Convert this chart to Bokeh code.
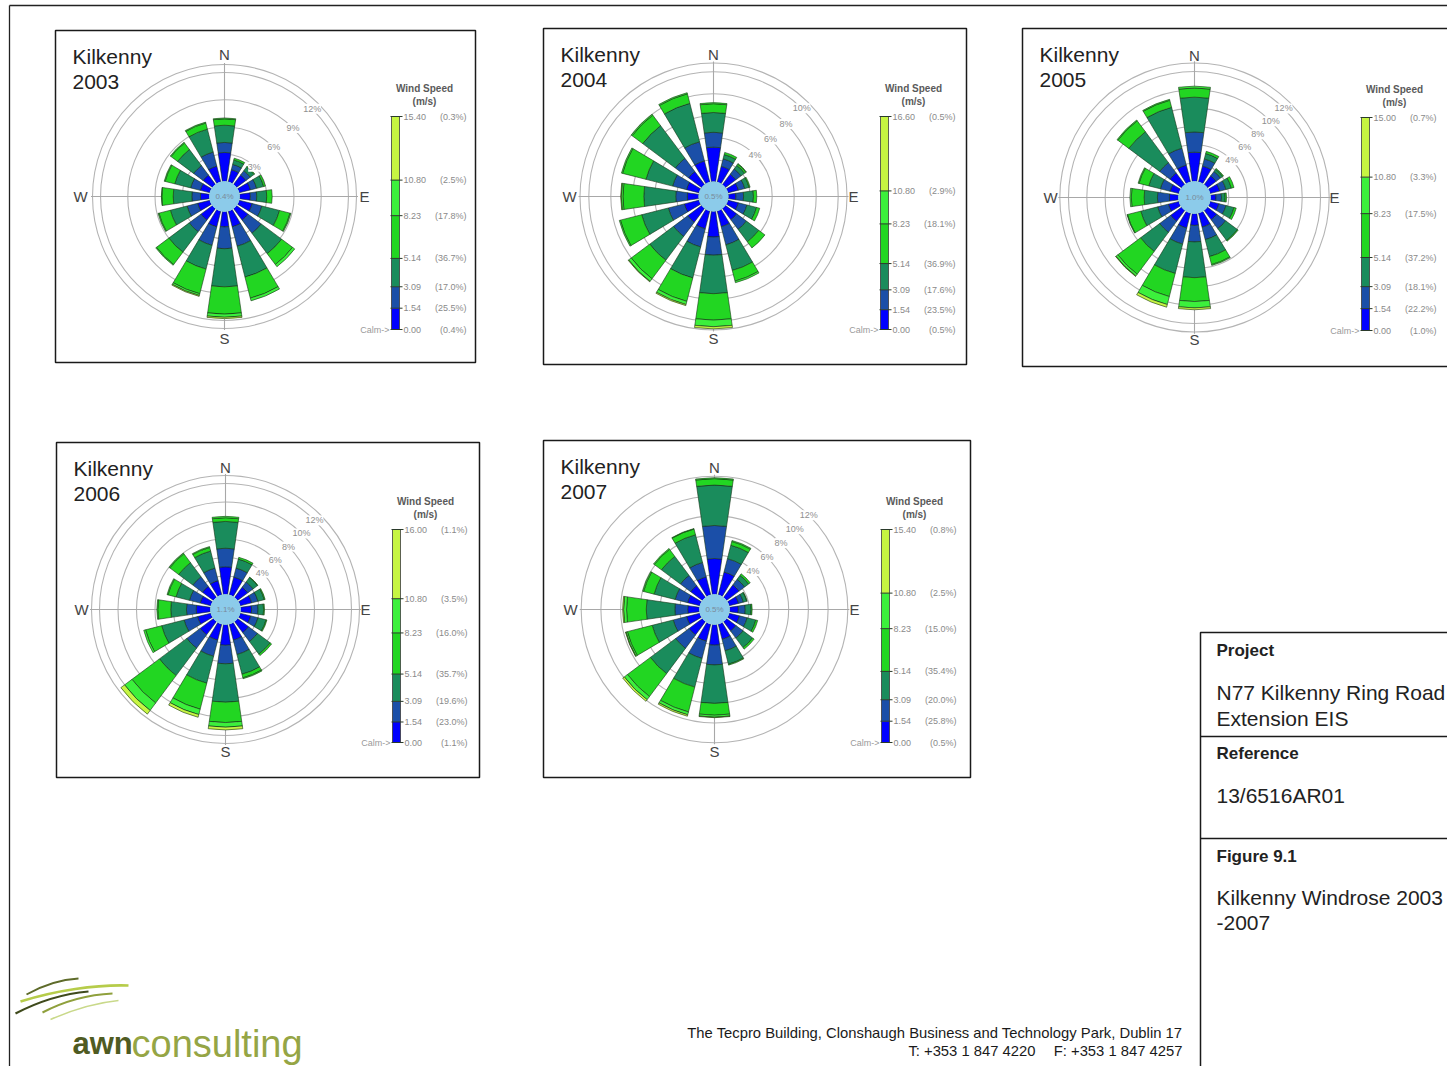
import numpy as np
from bokeh.plotting import figure
from bokeh.models import Range1d
from bokeh.core.properties import value
from bokeh.embed import file_html
from bokeh.resources import INLINE

W, H = 1447, 1066
FONT = value("Liberation Sans")

# ---------------------------------------------------------------- data
DIRECTIONS = ["N", "NNE", "NE", "ENE", "E", "ESE", "SE", "SSE",
              "S", "SSW", "SW", "WSW", "W", "WNW", "NW", "NNW"]
SPEED_EDGES = [0.00, 1.54, 3.09, 5.14, 8.23, 10.80]
CLASS_COLORS = ["#0000ff", "#1b4fa8", "#1a8c5c", "#22d622", "#3cf03c", "#c6f542"]
YEARS = [2003, 2004, 2005, 2006, 2007]

# frequency (%) by speed class (rows, slow to fast) and direction (columns)
freq_2003 = [
    [3.2, 1.4, 1.3, 1.3, 1.2, 1.5, 1.6, 1.8, 1.7, 1.8, 1.6, 1.4, 1.0, 1.1, 1.3, 1.8],
    [1.1, 0.6, 0.6, 0.7, 0.7, 1.1, 1.8, 2.2, 2.4, 2.1, 1.6, 1.2, 0.95, 1.1, 1.3, 1.6],
    [1.9, 0.5, 0.5, 0.8, 1.1, 2.0, 2.8, 3.5, 4.2, 2.7, 2.8, 1.9, 2.05, 1.8, 2.2, 2.6],
    [0.7, 0.2, 0.1, 0.2, 0.6, 1.2, 1.5, 2.4, 3.0, 2.8, 1.7, 1.3, 1.25, 1.1, 0.9, 0.7],
    [0.1, 0.0, 0.0, 0.0, 0.0, 0.1, 0.3, 0.3, 0.35, 0.2, 0.1, 0.1, 0.05, 0.1, 0.1, 0.1],
    [0.0, 0.0, 0.0, 0.0, 0.0, 0.0, 0.0, 0.0, 0.15, 0.1, 0.0, 0.0, 0.0, 0.0, 0.0, 0.0],
]
freq_2004 = [
    [3.15, 1.5, 1.2, 1.0, 0.7, 1.0, 1.3, 1.5, 2.35, 1.7, 1.6, 1.4, 1.05, 1.2, 1.5, 2.0],
    [1.35, 0.7, 0.6, 0.6, 0.7, 0.8, 1.1, 1.7, 1.65, 1.7, 1.6, 1.5, 1.05, 1.3, 1.5, 1.8],
    [1.8, 0.4, 0.4, 0.4, 0.9, 0.9, 1.4, 2.4, 3.5, 2.9, 2.7, 2.5, 2.9, 2.5, 3.7, 3.6],
    [0.8, 0.2, 0.15, 0.1, 0.3, 0.3, 0.7, 1.0, 2.4, 2.2, 2.1, 2.0, 1.9, 2.2, 1.2, 0.9],
    [0.1, 0.0, 0.05, 0.0, 0.0, 0.0, 0.0, 0.15, 0.6, 0.3, 0.3, 0.1, 0.15, 0.1, 0.1, 0.1],
    [0.0, 0.0, 0.0, 0.0, 0.0, 0.0, 0.0, 0.0, 0.2, 0.1, 0.05, 0.0, 0.05, 0.0, 0.0, 0.0],
]
freq_2005 = [
    [3.2, 1.8, 1.2, 1.1, 0.6, 1.0, 1.3, 1.6, 1.3, 1.7, 1.5, 1.2, 1.0, 1.0, 1.6, 1.9],
    [2.2, 0.8, 0.6, 0.7, 0.6, 0.8, 1.2, 1.4, 1.8, 1.8, 1.5, 1.2, 1.3, 1.1, 1.4, 1.9],
    [3.8, 0.6, 0.3, 0.6, 0.4, 0.9, 1.6, 1.9, 3.9, 3.3, 2.6, 1.9, 1.45, 1.3, 4.2, 4.6],
    [1.0, 0.25, 0.1, 0.3, 0.15, 0.25, 0.1, 0.9, 2.6, 2.6, 3.1, 1.5, 1.4, 1.1, 1.5, 0.8],
    [0.2, 0.0, 0.0, 0.0, 0.0, 0.0, 0.0, 0.1, 0.7, 0.9, 0.25, 0.05, 0.15, 0.1, 0.1, 0.1],
    [0.0, 0.0, 0.0, 0.0, 0.0, 0.0, 0.0, 0.0, 0.2, 0.3, 0.05, 0.0, 0.0, 0.0, 0.0, 0.0],
]
freq_2006 = [
    [3.0, 2.0, 1.4, 1.3, 1.2, 1.2, 1.5, 1.8, 2.25, 1.8, 1.8, 1.5, 1.55, 1.2, 1.5, 1.6],
    [2.0, 1.0, 0.7, 0.7, 0.7, 0.8, 1.2, 1.6, 2.0, 1.8, 1.8, 1.5, 1.05, 1.2, 1.3, 1.4],
    [2.9, 1.0, 0.6, 0.7, 0.6, 0.9, 1.7, 2.2, 4.15, 3.0, 3.7, 2.5, 1.7, 1.5, 1.9, 1.9],
    [0.4, 0.2, 0.05, 0.1, 0.1, 0.1, 0.2, 0.4, 2.2, 2.9, 3.7, 1.8, 1.4, 0.9, 1.2, 0.4],
    [0.15, 0.0, 0.0, 0.0, 0.0, 0.0, 0.0, 0.1, 0.5, 0.6, 1.0, 0.2, 0.1, 0.1, 0.1, 0.1],
    [0.0, 0.0, 0.0, 0.0, 0.0, 0.0, 0.0, 0.0, 0.3, 0.3, 0.5, 0.0, 0.0, 0.0, 0.0, 0.0],
]
freq_2007 = [
    [3.65, 2.4, 1.6, 1.0, 0.9, 1.1, 1.2, 1.6, 2.1, 1.8, 1.7, 1.4, 1.2, 1.3, 1.5, 1.9],
    [3.35, 1.4, 0.7, 0.5, 0.7, 0.8, 0.9, 1.2, 2.0, 1.8, 1.7, 1.4, 1.3, 1.3, 1.3, 1.5],
    [4.1, 1.4, 0.5, 0.35, 0.6, 0.9, 1.2, 1.4, 3.9, 3.0, 3.2, 2.2, 2.9, 2.2, 2.4, 2.9],
    [0.65, 0.4, 0.2, 0.05, 0.1, 0.2, 0.2, 0.1, 1.2, 2.6, 2.9, 2.6, 2.0, 1.1, 0.9, 0.6],
    [0.1, 0.1, 0.0, 0.0, 0.0, 0.0, 0.0, 0.0, 0.2, 0.3, 0.4, 0.15, 0.3, 0.1, 0.1, 0.05],
    [0.0, 0.0, 0.0, 0.0, 0.0, 0.0, 0.0, 0.0, 0.05, 0.15, 0.2, 0.05, 0.1, 0.0, 0.0, 0.0],
]
FREQS = [freq_2003, freq_2004, freq_2005, freq_2006, freq_2007]

calm_pct = [0.4, 0.5, 1.0, 1.1, 0.5]
top_speed = [15.40, 16.60, 15.00, 16.00, 15.40]
# class shares listed beside the legend bar (slow to fast)
class_pct_2003 = [25.5, 17.0, 36.7, 17.8, 2.5, 0.3]
class_pct_2004 = [23.5, 17.6, 36.9, 18.1, 2.9, 0.5]
class_pct_2005 = [22.2, 18.1, 37.2, 17.5, 3.3, 0.7]
class_pct_2006 = [23.0, 19.6, 35.7, 16.0, 3.5, 1.1]
class_pct_2007 = [25.8, 20.0, 35.4, 15.0, 2.5, 0.8]
CLASS_PCTS = [class_pct_2003, class_pct_2004, class_pct_2005, class_pct_2006, class_pct_2007]

# ---------------------------------------------------------------- layout
# frame box (l, t, r, b), rose centre, calm radius, px per %, rings, outer ring
PANELS = [
    dict(frame=(55, 30, 475, 362), center=(224, 196), r0=15.0, k=9.08,
         rings=[3, 6, 9, 12], outer=132.0, label_from=3),
    dict(frame=(543, 28, 966, 364), center=(713, 196), r0=14.7, k=11.0,
         rings=[2, 4, 6, 8, 10], outer=133.5, label_from=4),
    dict(frame=(1022, 28, 1480, 366), center=(1194, 197), r0=16.0, k=9.17,
         rings=[2, 4, 6, 8, 10, 12], outer=134.7, label_from=4),
    dict(frame=(56, 442, 479, 777), center=(225, 609), r0=15.0, k=9.25,
         rings=[2, 4, 6, 8, 10, 12], outer=134.0, label_from=4),
    dict(frame=(543, 440, 970, 777), center=(714, 609), r0=15.0, k=9.86,
         rings=[2, 4, 6, 8, 10, 12], outer=None, label_from=4),
]

p = figure(width=W, height=H, x_range=Range1d(0, W), y_range=Range1d(0, H),
           output_backend="svg", toolbar_location=None, min_border=0,
           x_axis_type=None, y_axis_type=None)
p.grid.visible = False
p.outline_line_color = None
p.background_fill_color = "white"
p.border_fill_color = "white"


def Y(y):
    return H - y


def txt(x, y, s, size, color="#222222", align="left", bold=False, baseline="middle"):
    p.text(x=[x], y=[Y(y)], text=[s], text_font=FONT, text_font_size=f"{size}px",
           text_color=color, text_align=align, text_baseline=baseline,
           text_font_style="bold" if bold else "normal")


# page border
p.segment(x0=[9, 9], y0=[Y(5), Y(5)], x1=[W, 9], y1=[Y(5), 0],
          line_color="#222222", line_width=1.3)

bearings = np.arange(16) * 22.5
HALF = 8.25

for i, cfg in enumerate(PANELS):
    year = YEARS[i]
    freq = np.array(FREQS[i])
    cum = np.cumsum(freq, axis=0)
    cx, cyi = cfg["center"]
    cy = Y(cyi)
    r0, k = cfg["r0"], cfg["k"]
    l, t, r, b = cfg["frame"]

    p.quad(left=[l], right=[r], top=[Y(t)], bottom=[Y(b)], fill_color=None,
           line_color="#1a1a1a", line_width=1.5)

    ring_r = [r0 + k * v for v in cfg["rings"]]
    outer = cfg["outer"] if cfg["outer"] else max(ring_r)
    all_r = ring_r + ([cfg["outer"]] if cfg["outer"] else [])
    p.circle(x=[cx] * len(all_r), y=[cy] * len(all_r), radius=all_r,
             fill_color=None, line_color="#b4b4b4", line_width=1.1)
    ext = outer + 1.5
    p.segment(x0=[cx, cx - ext], y0=[cy + ext, cy], x1=[cx, cx + ext], y1=[cy - ext, cy],
              line_color="#a8a8a8", line_width=1.1)

    xs, ys, ri, ro, sa, ea, cols = [], [], [], [], [], [], []
    for j in range(freq.shape[0]):
        for d in range(16):
            v = freq[j, d]
            if v <= 0:
                continue
            xs.append(cx)
            ys.append(cy)
            ri.append(r0 + k * (cum[j, d] - v))
            ro.append(r0 + k * cum[j, d])
            sa.append(np.deg2rad(90 - bearings[d] - HALF))
            ea.append(np.deg2rad(90 - bearings[d] + HALF))
            cols.append(CLASS_COLORS[j])
    p.annular_wedge(x=xs, y=ys, inner_radius=ri, outer_radius=ro,
                    start_angle=sa, end_angle=ea,
                    fill_color=cols, line_color="#143314", line_width=0.7, line_alpha=0.85)

    # calm circle
    p.circle(x=[cx], y=[cy], radius=r0, fill_color="#8ccbea", line_color="#8ccbea")
    txt(cx, cyi, f"{calm_pct[i]:.1f}%", 8, color="#7a8a99", align="center")

    # ring labels along the north-east diagonal
    for v, rr in zip(cfg["rings"], ring_r):
        if v < cfg["label_from"]:
            continue
        lx = cx + rr * np.cos(np.pi / 4)
        ly = cy + rr * np.sin(np.pi / 4)
        s = f"{v}%"
        p.rect(x=[lx], y=[ly], width=len(s) * 5.2 + 2, height=10, fill_color="white",
               line_color=None)
        p.text(x=[lx], y=[ly], text=[s], text_font=FONT, text_font_size="9px",
               text_color="#8f8f8f", text_align="center", text_baseline="middle")

    # compass points
    txt(cx, cyi - 142, "N", 15, color="#444444", align="center")
    txt(cx, cyi + 142, "S", 15, color="#444444", align="center")
    txt(cx - 144, cyi, "W", 15, color="#444444", align="center")
    txt(cx + 140, cyi, "E", 15, color="#444444", align="center")

    # title
    txt(l + 17, t + 26, "Kilkenny", 21)
    txt(l + 17, t + 51, str(year), 21)

    # speed legend bar
    bx0, bx1 = cx + 167, cx + 175
    y_bot, y_top = cyi + 133, cyi - 80
    scale = (y_bot - y_top) / top_speed[i]
    edges = SPEED_EDGES + [top_speed[i]]
    for j in range(6):
        p.quad(left=[bx0], right=[bx1], bottom=[Y(y_bot - edges[j] * scale)],
               top=[Y(y_bot - edges[j + 1] * scale)], fill_color=CLASS_COLORS[j],
               line_color=None)
    p.quad(left=[bx0], right=[bx1], bottom=[Y(y_bot)], top=[Y(y_top)], fill_color=None,
           line_color="#3a3a3a", line_width=0.8)
    tick_y = [Y(y_bot - e * scale) for e in edges]
    p.segment(x0=[bx0 - 1] * len(tick_y), y0=tick_y, x1=[bx1 + 3] * len(tick_y), y1=tick_y,
              line_color="#2a3a2a", line_width=1.0)
    shares = [calm_pct[i]] + CLASS_PCTS[i]
    for e, sh in zip(edges, shares):
        yy = y_bot - e * scale
        txt(bx1 + 4, yy, f"{e:.2f}", 9, color="#8a8a8a")
        txt(cx + 242, yy, f"({sh:.1f}%)", 9, color="#8a8a8a", align="right")
    txt(bx0 - 2, y_bot, "Calm->", 9, color="#9a9a9a", align="right")
    txt(cx + 200, cyi - 108, "Wind Speed", 10, color="#5a5a5a", align="center", bold=True)
    txt(cx + 200, cyi - 95, "(m/s)", 10, color="#5a5a5a", align="center", bold=True)

# title block
p.quad(left=[1200], right=[1480], top=[Y(632)], bottom=[Y(1080)], fill_color=None,
       line_color="#1a1a1a", line_width=1.5)
p.segment(x0=[1200, 1200], y0=[Y(736), Y(838)], x1=[W, W], y1=[Y(736), Y(838)],
          line_color="#1a1a1a", line_width=1.5)
txt(1216, 650, "Project", 17, bold=True)
txt(1216, 692, "N77 Kilkenny Ring Road", 21)
txt(1216, 718, "Extension EIS", 21)
txt(1216, 753, "Reference", 17, bold=True)
txt(1216, 795, "13/6516AR01", 21)
txt(1216, 856, "Figure 9.1", 17, bold=True)
txt(1216, 897, "Kilkenny Windrose 2003", 21)
txt(1216, 922, "-2007", 21)

# address
txt(1182, 1032, "The Tecpro Building, Clonshaugh Business and Technology Park, Dublin 17",
    14.8, color="#1a1a1a", align="right")
txt(1035, 1050, "T: +353 1 847 4220", 14.8, color="#1a1a1a", align="right")
txt(1182, 1050, "F: +353 1 847 4257", 14.8, color="#1a1a1a", align="right")

# logo swooshes and word mark
sw_x0 = [20, 26, 15, 42, 50]
sw_y0 = [1001, 994, 1013, 1012, 1019]
sw_x1 = [128, 78, 88, 112, 118]
sw_y1 = [985, 978, 991, 993, 1000]
sw_cx0 = [55, 42, 40, 65, 75]
sw_cy0 = [990, 985, 1000, 1000, 1008]
sw_cx1 = [95, 60, 65, 90, 98]
sw_cy1 = [984, 979, 993, 994, 1002]
sw_col = ["#b6cc4a", "#5e6b2a", "#3f4a1c", "#8fa03c", "#c9d98a"]
sw_w = [2.6, 2.0, 2.2, 2.0, 1.6]
p.bezier(x0=sw_x0, y0=[Y(v) for v in sw_y0], x1=sw_x1, y1=[Y(v) for v in sw_y1],
         cx0=sw_cx0, cy0=[Y(v) for v in sw_cy0], cx1=sw_cx1, cy1=[Y(v) for v in sw_cy1],
         line_color=sw_col, line_width=sw_w)
txt(72, 1043, "awn", 31, color="#4f5b22", bold=True, baseline="alphabetic")
txt(131, 1043, "consulting", 38, color="#95a545", baseline="alphabetic")

open("out.html", "w").write(file_html(p, INLINE))
